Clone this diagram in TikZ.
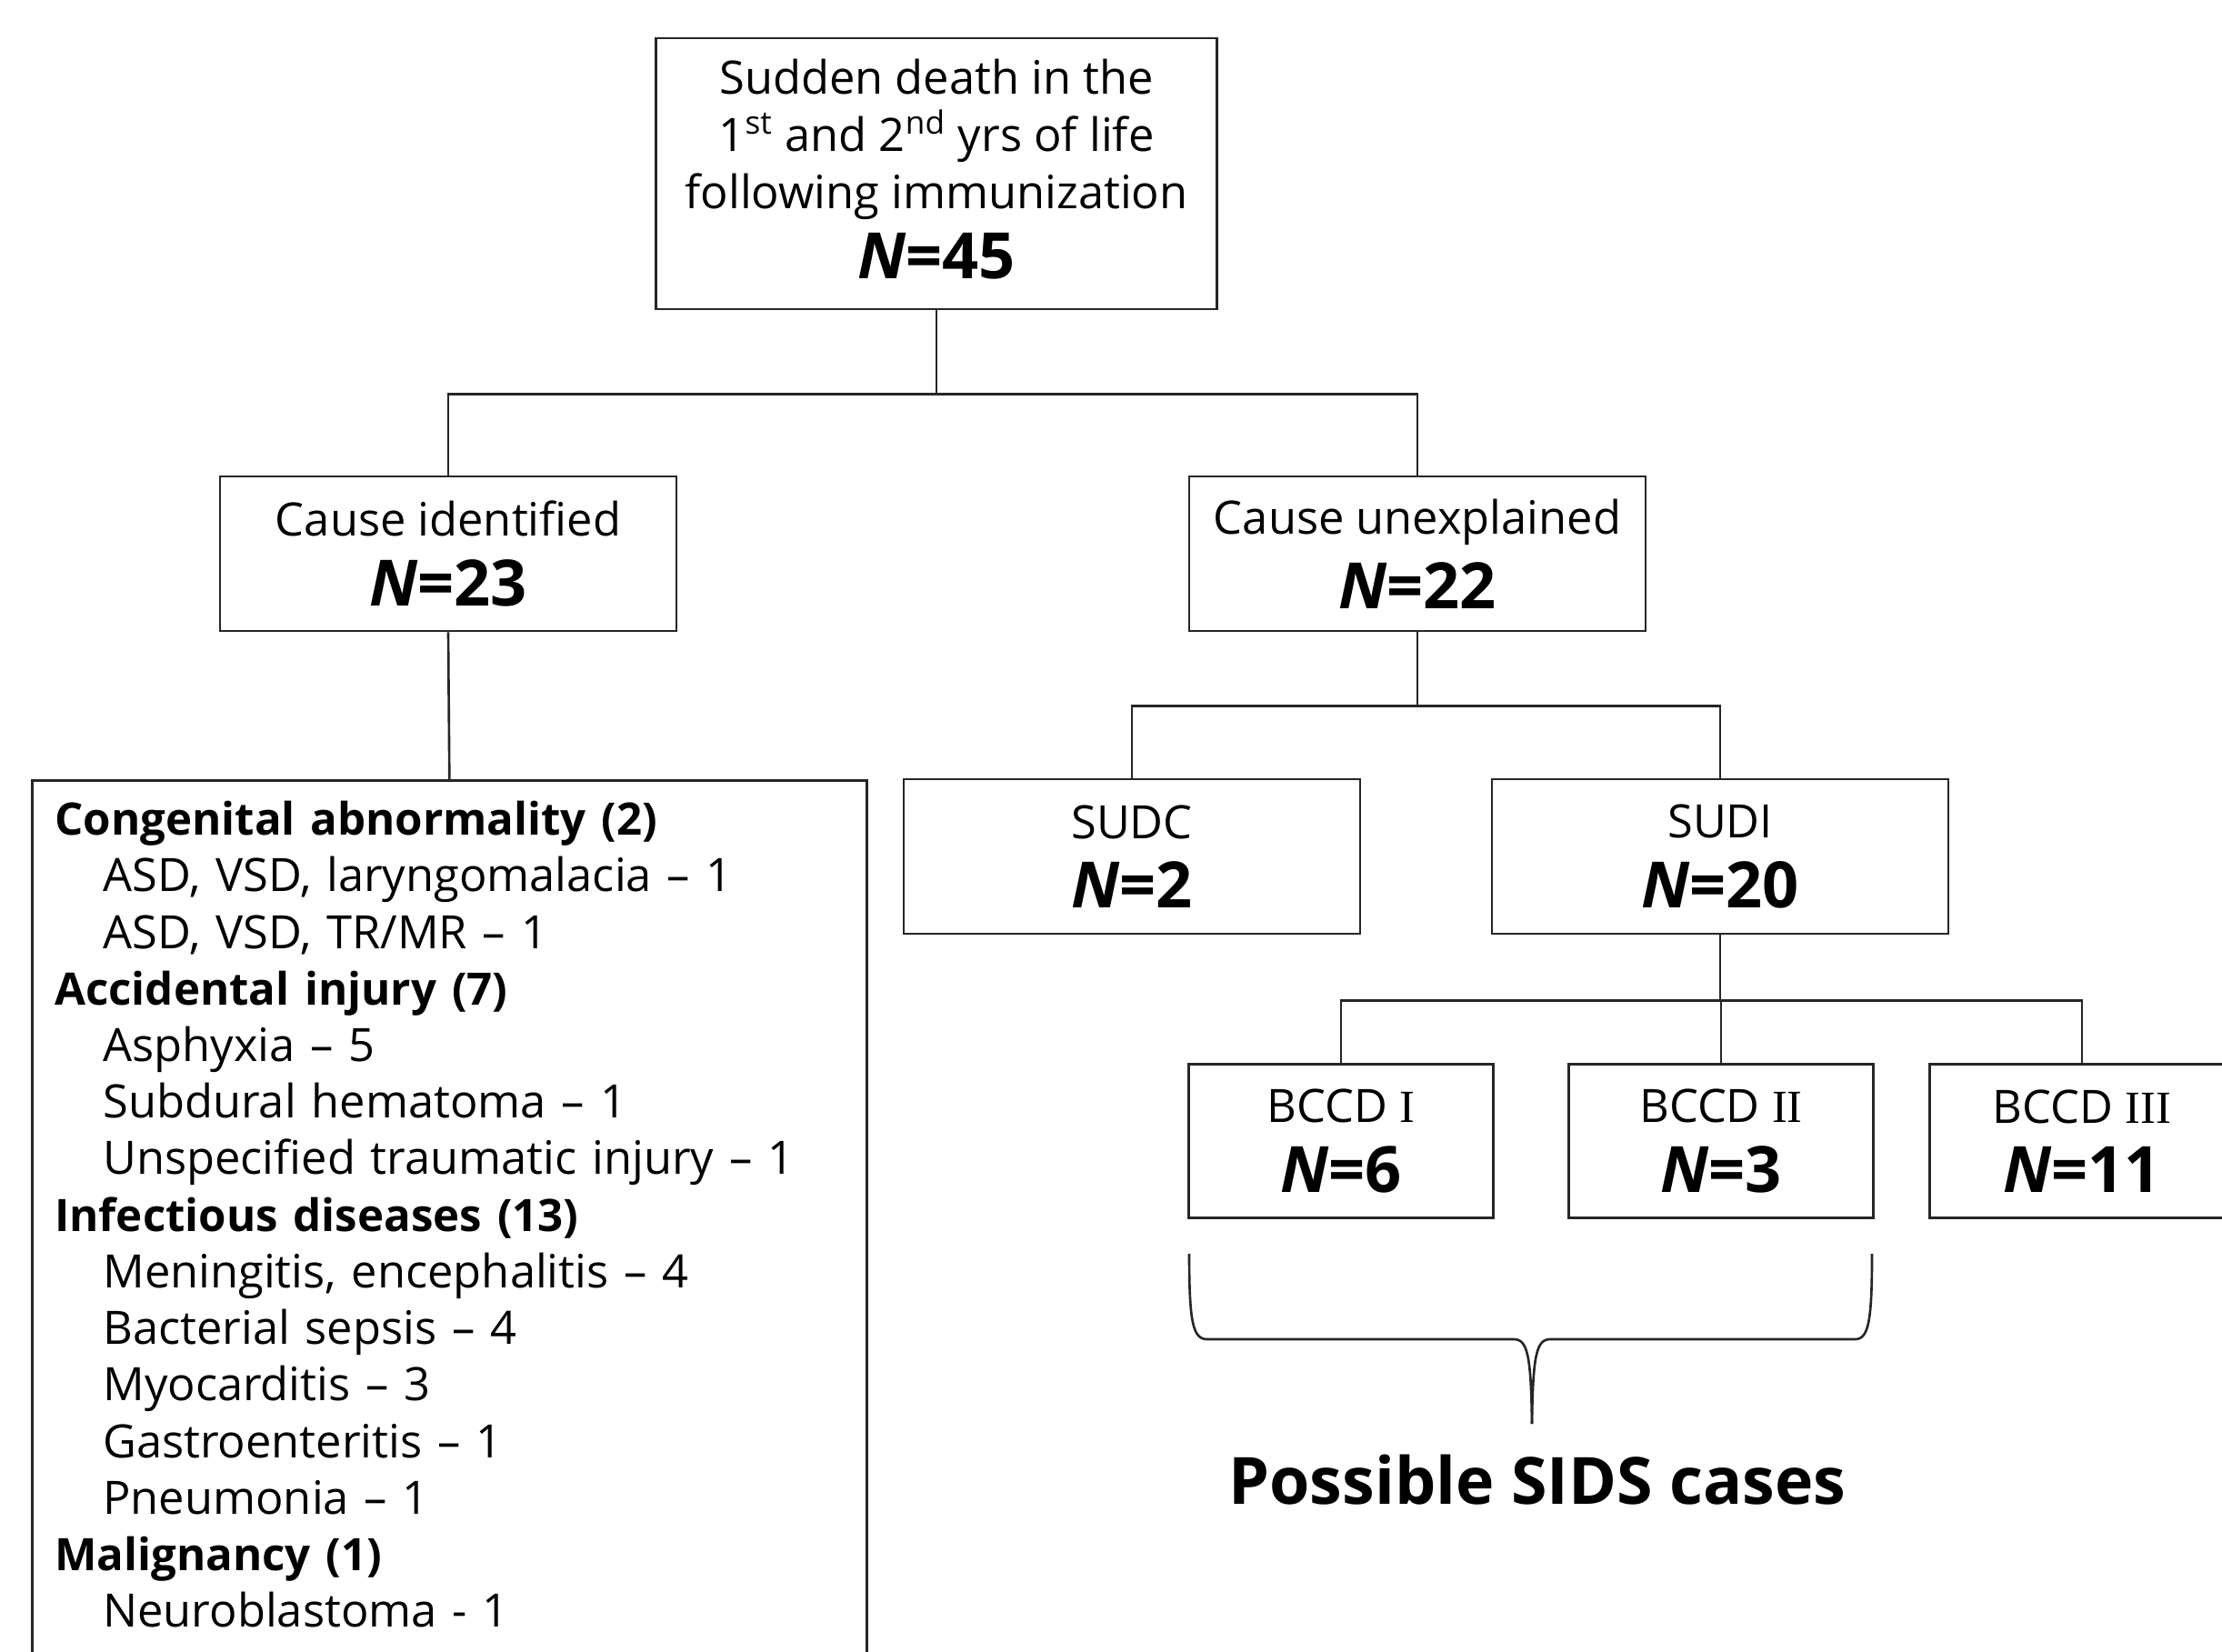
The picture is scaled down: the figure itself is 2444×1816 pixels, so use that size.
\documentclass[tikz,border=0pt]{standalone}
\usepackage{fontspec}
\setmainfont{Open Sans}
\newfontfamily\romfont{Liberation Serif}

\newcommand{\ncount}[1]{{\fontsize{20}{24}\selectfont\bfseries\textit{N}=#1}}
\newcommand{\grouphead}[1]{{\fontsize{14}{17.7}\selectfont\bfseries #1}}

\tikzset{
  chartbox/.style={draw=black!85, line width=0.75pt, align=center, inner sep=0pt,
    font=\fontsize{14.4}{17.4}\selectfont},
  wirestyle/.style={draw=black!85, line width=0.75pt},
}

\begin{document}
\begin{tikzpicture}[x=0.1mm,y=-0.1mm]
\clip (0,0) rectangle (2444,1816);

% Root box
\node[chartbox, minimum width=61.7mm, minimum height=29.8mm] (root) at (1030,191)
  {Sudden death in the\\[0.2mm]1\textsuperscript{st} and 2\textsuperscript{nd} yrs of life\\[0.2mm]following immunization\\[1.1mm]\ncount{45}\rule[-1.1mm]{0pt}{1pt}};

% Second level
\node[chartbox, minimum width=50.2mm, minimum height=17mm] (ident) at (493,609)
  {Cause identified\\[1.5mm]\ncount{23}};
\node[chartbox, minimum width=50.2mm, minimum height=17mm] (unexpl) at (1559,609)
  {Cause unexplained\\[1.5mm]\ncount{22}};

% List of causes
\node[draw=black!85, line width=0.75pt, anchor=north west, text width=86.8mm,
  inner xsep=2.5mm, inner ysep=2.3mm, align=left,
  font=\fontsize{14.4}{17.7}\selectfont] (causelist) at (34,857)
  {\grouphead{Congenital abnormality (2)}\\
   \hspace*{5.3mm}ASD, VSD, laryngomalacia – 1\\
   \hspace*{5.3mm}ASD, VSD, TR/MR – 1\\
   \grouphead{Accidental injury (7)}\\
   \hspace*{5.3mm}Asphyxia – 5\\
   \hspace*{5.3mm}Subdural hematoma – 1\\
   \hspace*{5.3mm}Unspecified traumatic injury – 1\\
   \grouphead{Infectious diseases (13)}\\
   \hspace*{5.3mm}Meningitis, encephalitis – 4\\
   \hspace*{5.3mm}Bacterial sepsis – 4\\
   \hspace*{5.3mm}Myocarditis – 3\\
   \hspace*{5.3mm}Gastroenteritis – 1\\
   \hspace*{5.3mm}Pneumonia – 1\\
   \grouphead{Malignancy (1)}\\
   \hspace*{5.3mm}Neuroblastoma - 1\\[6mm]\mbox{}};

% Third level
\node[chartbox, minimum width=50.2mm, minimum height=17mm] (sudc) at (1245,942)
  {SUDC\\[1.5mm]\ncount{2}};
\node[chartbox, minimum width=50.2mm, minimum height=17mm] (sudi) at (1892,942)
  {SUDI\\[1.5mm]\ncount{20}};

% Fourth level
\node[chartbox, minimum width=33.5mm, minimum height=16.9mm] (bccdi) at (1475,1255)
  {BCCD {\romfont I}\\[1.5mm]\ncount{6}};
\node[chartbox, minimum width=33.5mm, minimum height=16.9mm] (bccdii) at (1893,1255)
  {BCCD {\romfont II}\\[1.5mm]\ncount{3}};
\node[chartbox, minimum width=33.5mm, minimum height=16.9mm] (bccdiii) at (2290,1255)
  {BCCD {\romfont III}\\[1.5mm]\ncount{11}};

% Connectors
\draw[wirestyle] (root.south) -- ++(0,92) -| (ident.north);
\draw[wirestyle] (root.south) -- ++(0,92) -| (unexpl.north);
\draw[wirestyle] (ident.south) -- (causelist.north);
\draw[wirestyle] (unexpl.south) -- ++(0,81) -| (sudc.north);
\draw[wirestyle] (unexpl.south) -- ++(0,81) -| (sudi.north);
\draw[wirestyle] (sudi.south) -- ++(0,72) -| (bccdi.north);
\draw[wirestyle] (sudi.south) -- ++(0,72) -| (bccdii.north);
\draw[wirestyle] (sudi.south) -- ++(0,72) -| (bccdiii.north);

% Brace
\draw[wirestyle] (1308,1379) .. controls (1308,1455) and (1312,1473) .. (1328,1473)
  -- (1665,1473) .. controls (1680,1473) and (1684,1490) .. (1685,1566);
\draw[wirestyle] (2059,1379) .. controls (2059,1455) and (2055,1473) .. (2040,1473)
  -- (1705,1473) .. controls (1690,1473) and (1686,1490) .. (1685,1566);

% Brace label
\node[font=\fontsize{20.4}{24}\selectfont\bfseries] (sids) at (1691,1628) {Possible SIDS cases};

\end{tikzpicture}
\end{document}
